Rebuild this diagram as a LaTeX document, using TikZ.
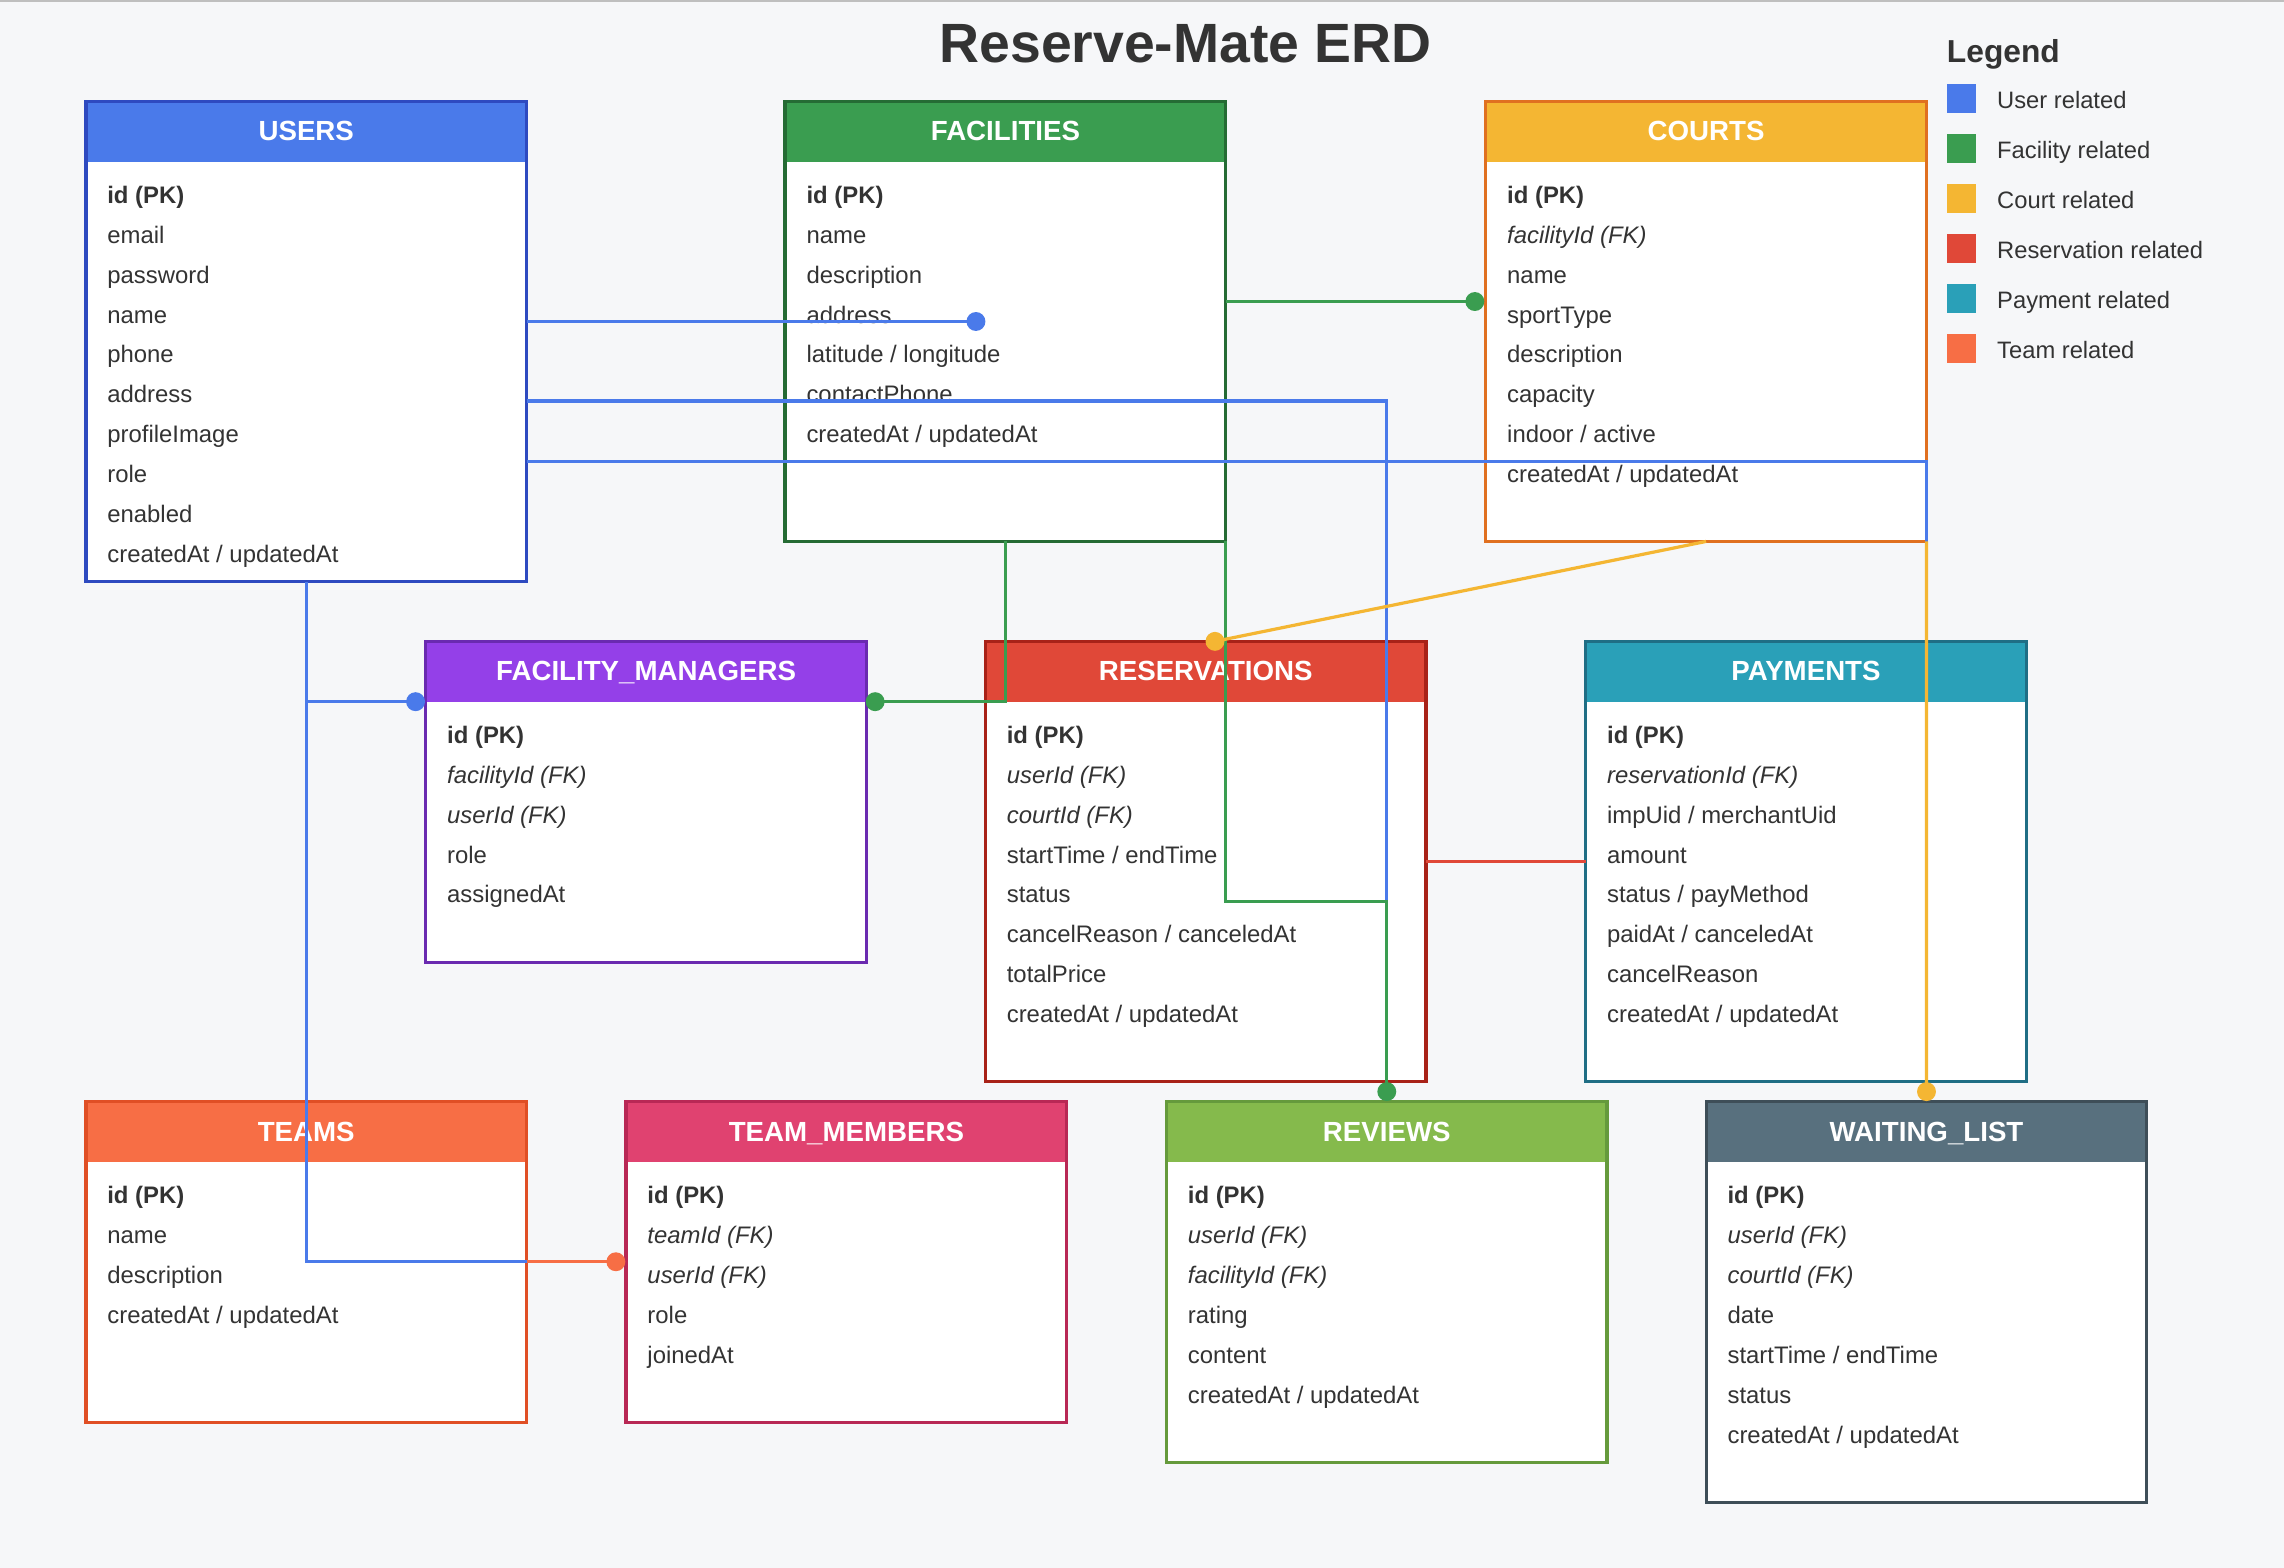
\documentclass[tikz,border=0pt]{standalone}
\usepackage{fontspec}
\setmainfont{Liberation Sans}
\usetikzlibrary{calc}

\definecolor{bgcol}{HTML}{F6F7F9}
\definecolor{inkcol}{HTML}{333333}
\definecolor{ublue}{HTML}{4A7AEA}
\definecolor{uborder}{HTML}{2E4AC0}
\definecolor{fgreen}{HTML}{3A9D50}
\definecolor{fborder}{HTML}{256B34}
\definecolor{cyellow}{HTML}{F4B633}
\definecolor{cborder}{HTML}{E07020}
\definecolor{mpurple}{HTML}{9440E8}
\definecolor{mborder}{HTML}{6A2AB0}
\definecolor{rred}{HTML}{E04838}
\definecolor{rborder}{HTML}{A82218}
\definecolor{pteal}{HTML}{2AA0B8}
\definecolor{pborder}{HTML}{1F6E85}
\definecolor{torange}{HTML}{F76E45}
\definecolor{tborder}{HTML}{E04F25}
\definecolor{tmpink}{HTML}{E04270}
\definecolor{tmborder}{HTML}{B82855}
\definecolor{rvgreen}{HTML}{85BA4C}
\definecolor{rvborder}{HTML}{659A3C}
\definecolor{wlslate}{HTML}{58707E}
\definecolor{wlborder}{HTML}{3E4E58}

\tikzset{
  entity/.style 2 args={draw=#2, fill=white, line width=2.3pt, anchor=north west,
    inner sep=0pt, outer sep=0pt, minimum width=302.5pt,
    path picture={\fill[#1] (path picture bounding box.north west)
      rectangle ([yshift=-41.5pt]path picture bounding box.north east);}},
  headtext/.style={anchor=base, text=white, font=\fontsize{19}{22}\selectfont\bfseries},
  field/.style={anchor=base west, inner sep=0pt, text=inkcol, font=\fontsize{16.4}{20}\selectfont},
  link/.style={line width=2.2pt},
}

\begin{document}
\begin{tikzpicture}[x=1pt, y=-1pt]
      \useasboundingbox (0,0) rectangle (1568,1076.4);
      \fill[bgcol] (0,0) rectangle (1568,1076.4);
      \draw[black!25, line width=1.5pt] (0,0.5) -- (1568,0.5);

      \node[anchor=base, text=inkcol, font=\fontsize{38}{44}\selectfont\bfseries] (title) at (814,42.6) {Reserve-Mate ERD};

      % top row
      \node[entity={ublue}{uborder}, minimum height=329.7pt] (users) at (59,69.6) {};
      \node[headtext] (usersname) at ([yshift=-27pt]users.north) {USERS};
      \foreach \f [count=\i from 0] in {\textbf{id (PK)}, email, password, name, phone, address, profileImage, role, enabled, createdAt / updatedAt}
        \node[field] (users-\i) at ([xshift=14.5pt, yshift={-70pt-\i*27.4pt}]users.north west) {\f};

      \node[entity={fgreen}{fborder}, minimum height=302.1pt] (facilities) at (539,69.6) {};
      \node[headtext] (facilitiesname) at ([yshift=-27pt]facilities.north) {FACILITIES};
      \foreach \f [count=\i from 0] in {\textbf{id (PK)}, name, description, address, latitude / longitude, contactPhone, createdAt / updatedAt}
        \node[field] (facilities-\i) at ([xshift=14.5pt, yshift={-70pt-\i*27.4pt}]facilities.north west) {\f};

      \node[entity={cyellow}{cborder}, minimum height=302.1pt] (courts) at (1020,69.6) {};
      \node[headtext] (courtsname) at ([yshift=-27pt]courts.north) {COURTS};
      \foreach \f [count=\i from 0] in {\textbf{id (PK)}, \textit{facilityId (FK)}, name, sportType, description, capacity, indoor / active, createdAt / updatedAt}
        \node[field] (courts-\i) at ([xshift=14.5pt, yshift={-70pt-\i*27.4pt}]courts.north west) {\f};

      % middle row
      \node[entity={mpurple}{mborder}, minimum height=220.3pt] (managers) at (292.3,440.3) {};
      \node[headtext] (managersname) at ([yshift=-27pt]managers.north) {FACILITY\_MANAGERS};
      \foreach \f [count=\i from 0] in {\textbf{id (PK)}, \textit{facilityId (FK)}, \textit{userId (FK)}, role, assignedAt}
        \node[field] (managers-\i) at ([xshift=14.5pt, yshift={-70pt-\i*27.4pt}]managers.north west) {\f};

      \node[entity={rred}{rborder}, minimum height=302.2pt] (reservations) at (676.5,440.3) {};
      \node[headtext] (reservationsname) at ([yshift=-27pt]reservations.north) {RESERVATIONS};
      \foreach \f [count=\i from 0] in {\textbf{id (PK)}, \textit{userId (FK)}, \textit{courtId (FK)}, startTime / endTime, status, cancelReason / canceledAt, totalPrice, createdAt / updatedAt}
        \node[field] (reservations-\i) at ([xshift=14.5pt, yshift={-70pt-\i*27.4pt}]reservations.north west) {\f};

      \node[entity={pteal}{pborder}, minimum height=302.2pt] (payments) at (1088.6,440.3) {};
      \node[headtext] (paymentsname) at ([yshift=-27pt]payments.north) {PAYMENTS};
      \foreach \f [count=\i from 0] in {\textbf{id (PK)}, \textit{reservationId (FK)}, impUid / merchantUid, amount, status / payMethod, paidAt / canceledAt, cancelReason, createdAt / updatedAt}
        \node[field] (payments-\i) at ([xshift=14.5pt, yshift={-70pt-\i*27.4pt}]payments.north west) {\f};

      % bottom row
      \node[entity={torange}{tborder}, minimum height=220.1pt] (teams) at (59,756.4) {};
      \node[headtext] (teamsname) at ([yshift=-27pt]teams.north) {TEAMS};
      \foreach \f [count=\i from 0] in {\textbf{id (PK)}, name, description, createdAt / updatedAt}
        \node[field] (teams-\i) at ([xshift=14.5pt, yshift={-70pt-\i*27.4pt}]teams.north west) {\f};

      \node[entity={tmpink}{tmborder}, minimum height=220.1pt] (members) at (429.8,756.4) {};
      \node[headtext] (membersname) at ([yshift=-27pt]members.north) {TEAM\_MEMBERS};
      \foreach \f [count=\i from 0] in {\textbf{id (PK)}, \textit{teamId (FK)}, \textit{userId (FK)}, role, joinedAt}
        \node[field] (members-\i) at ([xshift=14.5pt, yshift={-70pt-\i*27.4pt}]members.north west) {\f};

      \node[entity={rvgreen}{rvborder}, minimum height=247.5pt] (reviews) at (800.8,756.4) {};
      \node[headtext] (reviewsname) at ([yshift=-27pt]reviews.north) {REVIEWS};
      \foreach \f [count=\i from 0] in {\textbf{id (PK)}, \textit{userId (FK)}, \textit{facilityId (FK)}, rating, content, createdAt / updatedAt}
        \node[field] (reviews-\i) at ([xshift=14.5pt, yshift={-70pt-\i*27.4pt}]reviews.north west) {\f};

      \node[entity={wlslate}{wlborder}, minimum height=275pt] (waiting) at (1171.3,756.4) {};
      \node[headtext] (waitingname) at ([yshift=-27pt]waiting.north) {WAITING\_LIST};
      \foreach \f [count=\i from 0] in {\textbf{id (PK)}, \textit{userId (FK)}, \textit{courtId (FK)}, date, startTime / endTime, status, createdAt / updatedAt}
        \node[field] (waiting-\i) at ([xshift=14.5pt, yshift={-70pt-\i*27.4pt}]waiting.north west) {\f};

      % connector ends
      \coordinate (addrdot) at (670,220.7);
      \coordinate (courtdot) at ([xshift=-7.5pt]courts.west |- 0,207);
      \coordinate (mgrudot) at ([xshift=-7pt]managers.west |- 0,481.7);
      \coordinate (mgrfdot) at ([xshift=6pt]managers.east |- 0,481.7);
      \coordinate (resdot) at (834.1,440.3);
      \coordinate (revdot) at ([yshift=7pt]reviews.north);
      \coordinate (waitdot) at ([yshift=7pt]waiting.north);
      \coordinate (memdot) at ([xshift=-7pt]members.west |- 0,866.2);

      % users related
      \draw[link, ublue] (users.east |- addrdot) -- (addrdot);
      \draw[link, ublue] (users.east |- 0,275.3) -| (revdot);
      \draw[link, ublue] (users.east |- 0,317) -| (waitdot);
      \draw[link, ublue] (users.south) |- (memdot);
      \draw[link, ublue] (users.south |- mgrudot) -- (mgrudot);
      \fill[ublue] (addrdot) circle (6.5) (mgrudot) circle (6.5);

      % facility related
      \draw[link, fgreen] (facilities.east |- courtdot) -- (courtdot);
      \draw[link, fgreen] (facilities.south) |- (mgrfdot);
      \draw[link, fgreen] (facilities.south east) -- (facilities.south east |- 0,619) -| (revdot);
      \fill[fgreen] (courtdot) circle (6.5) (mgrfdot) circle (6.5) (revdot) circle (6.5);

      % court related
      \draw[link, cyellow] (courts.south) -- (resdot);
      \draw[link, cyellow] (courts.south east) -- (waitdot);
      \fill[cyellow] (resdot) circle (6.5) (waitdot) circle (6.5);

      % reservation and team related
      \draw[link, rred] (reservations.east |- 0,591.5) -- (payments.west |- 0,591.5);
      \draw[link, torange] (teams.east |- memdot) -- (memdot);
      \fill[torange] (memdot) circle (6.5);

      % legend
      \node[anchor=base west, inner sep=0pt, text=inkcol, font=\fontsize{21.8}{26}\selectfont\bfseries] (legend) at (1336.4,42.6) {Legend};
      \foreach \c/\t [count=\i from 0] in {ublue/User related, fgreen/Facility related, cyellow/Court related, rred/Reservation related, pteal/Payment related, torange/Team related} {
        \fill[\c] (1336.4,57.5+34.4*\i) rectangle +(20,20);
        \node[field, font=\fontsize{16.3}{20}\selectfont] (legend-\i) at (1370.9,74.2+34.4*\i) {\t};
      }
    \end{tikzpicture}
\end{document}
